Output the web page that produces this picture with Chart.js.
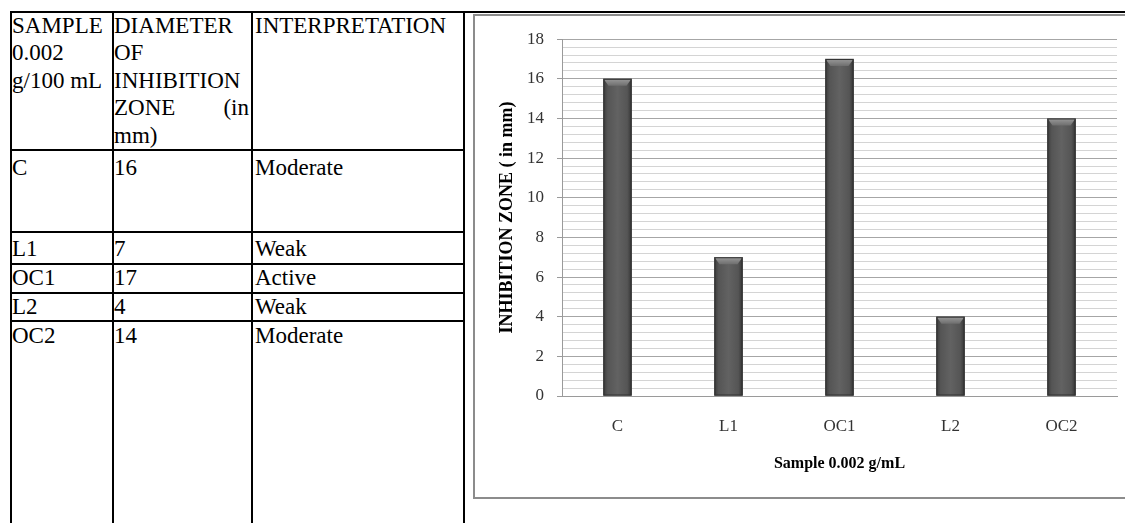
<!DOCTYPE html>
<html>
<head>
<meta charset="utf-8">
<script src="https://cdn.jsdelivr.net/npm/chart.js@4/dist/chart.umd.min.js"></script>
<style>
  html, body { margin: 0; padding: 0; background: #fff; }
  body { width: 1125px; height: 523px; position: relative; overflow: hidden; font-family: "Liberation Serif", "Times New Roman", serif; }
  .hl, .vl { position: absolute; background: #000; }
  .hl { height: 2px; }
  .vl { width: 2px; }
  .cell { position: absolute; font-size: 23px; line-height: 27.5px; color: #000; white-space: nowrap; }
  .just { display: flex; justify-content: space-between; }
  #chartBox { position: absolute; left: 473px; top: 14px; width: 670px; height: 481px; border: 2px solid #8c8c8c; }
</style>
</head>
<body>

<!-- table lines -->
<div class="hl" style="left:10px; top:11px; width:1115px;"></div>
<div class="hl" style="left:10px; top:149px; width:455px;"></div>
<div class="hl" style="left:10px; top:231px; width:455px;"></div>
<div class="hl" style="left:10px; top:263px; width:455px;"></div>
<div class="hl" style="left:10px; top:292px; width:455px;"></div>
<div class="hl" style="left:10px; top:320px; width:455px;"></div>
<div class="vl" style="left:10px; top:11px; height:512px;"></div>
<div class="vl" style="left:112px; top:11px; height:512px;"></div>
<div class="vl" style="left:251px; top:11px; height:512px;"></div>
<div class="vl" style="left:463px; top:11px; height:512px;"></div>

<div id="tbl"></div>

<div id="chartBox"></div>
<div style="position:absolute; left:475px; top:16px; width:650px; height:481px;">
  <canvas id="inhibitionChart" width="650" height="481"></canvas>
</div>

<script>
const samples = ['C', 'L1', 'OC1', 'L2', 'OC2'];
const zoneMm = [16, 7, 17, 4, 14];
const interpretation = ['Moderate', 'Weak', 'Active', 'Weak', 'Moderate'];
const yTickLabels = [0, 2, 4, 6, 8, 10, 12, 14, 16, 18];

// table text (row tops in px)
const rowTops = [153.5, 234.5, 263.5, 293, 322];
const colLefts = [12, 114, 255];

function addCell(left, top, html) {
    const d = document.createElement('div');
    d.className = 'cell';
    d.style.left = left + 'px';
    d.style.top = top + 'px';
    d.innerHTML = html;
    document.getElementById('tbl').appendChild(d);
    return d;
}

addCell(colLefts[0], 11.5, 'SAMPLE<br>0.002<br>g/100 mL');
const hd = addCell(colLefts[1], 11.5, 'DIAMETER<br>OF<br>INHIBITION<div class="just"><span>ZONE</span><span>(in</span></div>mm)');
hd.style.width = '135px';
addCell(colLefts[2], 11.5, 'INTERPRETATION');

for (let i = 0; i < samples.length; ++i) {
    addCell(colLefts[0], rowTops[i], samples[i]);
    addCell(colLefts[1], rowTops[i], String(zoneMm[i]));
    addCell(colLefts[2], rowTops[i], interpretation[i]);
}

function isMajor(v) {
    return Math.abs(v / 2 - Math.round(v / 2)) < 1e-6;
}

// bars in the scan have a shaded body and a bevelled top
const barShade = {
    id: 'barShade',
    afterDatasetsDraw(chart) {
        const ctx = chart.ctx;
        chart.getDatasetMeta(0).data.forEach(bar => {
            const w = bar.width, l = bar.x - w / 2, r = bar.x + w / 2;
            const g = ctx.createLinearGradient(l, 0, r, 0);
            g.addColorStop(0, '#3c3c3c');
            g.addColorStop(0.15, '#555555');
            g.addColorStop(0.5, '#626262');
            g.addColorStop(0.85, '#555555');
            g.addColorStop(1, '#363636');
            ctx.save();
            ctx.fillStyle = g;
            ctx.fillRect(l, bar.y, w, bar.base - bar.y);
            const bev = ctx.createLinearGradient(0, bar.y, 0, bar.y + 7);
            bev.addColorStop(0, '#9a9a9a');
            bev.addColorStop(1, '#6e6e6e');
            ctx.fillStyle = bev;
            ctx.beginPath();
            ctx.moveTo(l, bar.y);
            ctx.lineTo(r, bar.y);
            ctx.lineTo(r - 5, bar.y + 7);
            ctx.lineTo(l + 5, bar.y + 7);
            ctx.closePath();
            ctx.fill();
            ctx.strokeStyle = '#333333';
            ctx.lineWidth = 1;
            ctx.strokeRect(l + 0.5, bar.y + 0.5, w - 1, bar.base - bar.y - 1);
            ctx.restore();
        });
    }
};

const ctx = document.getElementById('inhibitionChart').getContext('2d');
new Chart(ctx, {
    type: 'bar',
    data: {
        labels: samples,
        datasets: [{
            label: 'Inhibition zone',
            data: zoneMm,
            backgroundColor: '#595959',
            barThickness: 28
        }]
    },
    options: {
        responsive: false,
        animation: false,
        layout: { padding: { left: 0, right: 8, top: 21, bottom: 0 } },
        plugins: {
            legend: { display: false },
            tooltip: { enabled: false }
        },
        scales: {
            x: {
                afterFit: s => { s.height = 101; },
                grid: { display: false, drawTicks: false },
                border: { display: true, color: '#9a9a9a', width: 1 },
                ticks: {
                    color: '#333',
                    padding: 20,
                    font: { family: '"Liberation Serif", serif', size: 17 }
                },
                title: {
                    display: true,
                    text: 'Sample 0.002 g/mL',
                    color: '#000',
                    font: { family: '"Liberation Serif", serif', size: 16, weight: 'bold' },
                    padding: { top: 0, bottom: 24 }
                }
            },
            y: {
                min: 0,
                max: 18,
                afterFit: s => { s.width = 87; },
                afterBuildTicks: s => {
                    s.ticks = [];
                    for (let i = 0; i <= 45; ++i) s.ticks.push({ value: Math.round(i * 4) / 10 });
                },
                grid: {
                    color: c => isMajor(c.tick.value) ? '#a6a6a6' : '#d4d4d4',
                    tickColor: c => isMajor(c.tick.value) ? '#9a9a9a' : 'rgba(0,0,0,0)',
                    tickLength: 5
                },
                border: { display: true, color: '#9a9a9a', width: 1 },
                ticks: {
                    autoSkip: false,
                    color: '#333',
                    padding: 13,
                    font: { family: '"Liberation Serif", serif', size: 17 },
                    callback: v => yTickLabels.includes(v) ? v : ''
                },
                title: {
                    display: true,
                    text: 'INHIBITION ZONE ( in mm)',
                    color: '#000',
                    font: { family: '"Liberation Serif", serif', size: 18, weight: 'bold' },
                    padding: { top: 22, bottom: 0 }
                }
            }
        }
    },
    plugins: [barShade]
});
</script>
</body>
</html>
